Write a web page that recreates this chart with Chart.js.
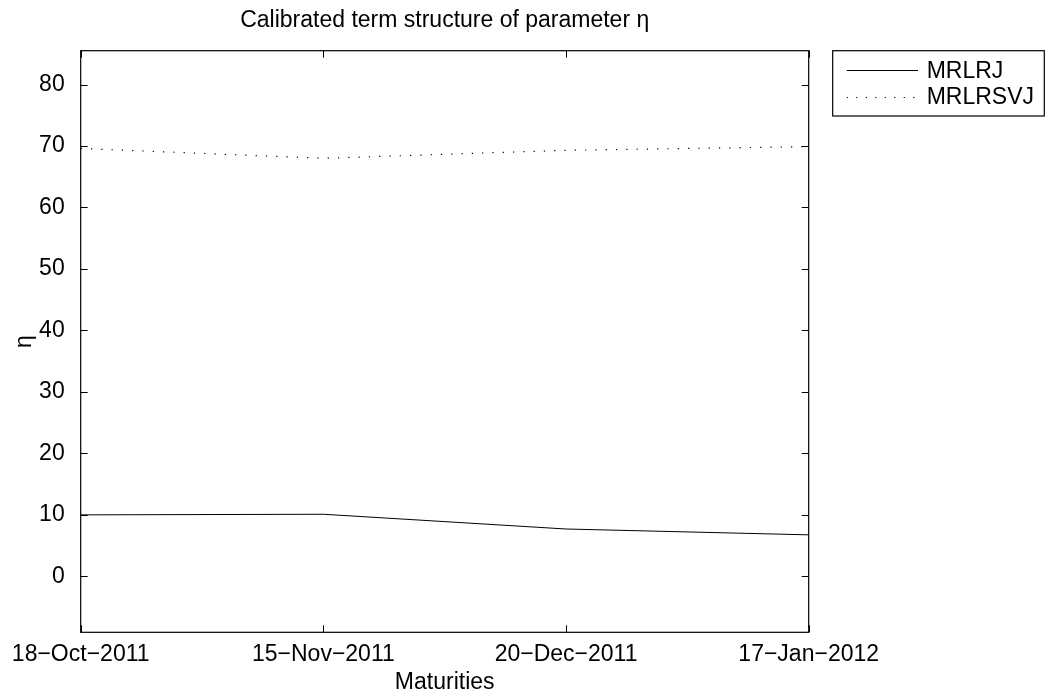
<!DOCTYPE html>
<html>
<head>
<meta charset="utf-8">
<script src="https://cdn.jsdelivr.net/npm/chart.js@4.4.0/dist/chart.umd.min.js"></script>
<style>
  html, body { margin: 0; padding: 0; background: #fff; overflow: hidden; }
  #wrap { width: 1051px; height: 698px; position: relative; }
</style>
</head>
<body>
<div id="wrap"><canvas id="c" width="1051" height="698"></canvas></div>
<script>
// Maturity dates on the x axis
const maturities = ['18\u2212Oct\u22122011', '15\u2212Nov\u22122011', '20\u2212Dec\u22122011', '17\u2212Jan\u22122012'];
// Calibrated eta for each model
const etaMRLRJ = [10.0, 10.1, 7.7, 6.75];
const etaMRLRSVJ = [69.6, 68.0, 69.3, 69.9];
// Y axis ticks and limits
const etaTicks = [0, 10, 20, 30, 40, 50, 60, 70, 80];
const etaMin = -9.1;
const etaMax = 85.5;

const FONT = 'Liberation Sans, Arial, Helvetica, sans-serif';
const FSIZE = 23;

// Axes box, inward tick marks and a boxed legend at the upper right
const framePlugin = {
  id: 'frame',
  afterDraw(chart) {
    const ctx = chart.ctx;
    const a = chart.chartArea;
    const xs = chart.scales.x, ys = chart.scales.y;
    const tl = 7;
    ctx.save();
    ctx.strokeStyle = '#000';
    ctx.lineWidth = 1.2;
    ctx.strokeRect(a.left, a.top, a.right - a.left, a.bottom - a.top);
    ctx.lineWidth = 1;
    ctx.beginPath();
    ys.ticks.forEach(t => {
      const y = Math.round(ys.getPixelForValue(t.value)) + 0.5;
      ctx.moveTo(a.left, y); ctx.lineTo(a.left + tl, y);
      ctx.moveTo(a.right, y); ctx.lineTo(a.right - tl, y);
    });
    xs.ticks.forEach((t, i) => {
      const x = Math.round(xs.getPixelForTick(i)) + 0.5;
      ctx.moveTo(x, a.bottom); ctx.lineTo(x, a.bottom - tl);
      ctx.moveTo(x, a.top); ctx.lineTo(x, a.top + tl);
    });
    ctx.stroke();

    // legend
    const lx1 = a.right + 24, ly1 = a.top, lx2 = 1044.3, ly2 = a.top + 65.3;
    ctx.lineWidth = 1.2;
    ctx.strokeRect(lx1, ly1, lx2 - lx1, ly2 - ly1);
    ctx.font = FSIZE + 'px ' + FONT;
    ctx.fillStyle = '#000';
    ctx.textBaseline = 'middle';
    ctx.textAlign = 'left';
    chart.data.datasets.forEach((ds, i) => {
      const y = ly1 + 19.5 + i * 26.7;
      ctx.save();
      ctx.lineWidth = ds.borderWidth;
      ctx.strokeStyle = ds.borderColor;
      ctx.setLineDash(ds.legendDash || []);
      ctx.beginPath();
      ctx.moveTo(lx1 + 14, Math.round(y) + 0.5);
      ctx.lineTo(lx1 + 85.3, Math.round(y) + 0.5);
      ctx.stroke();
      ctx.restore();
      ctx.fillText(ds.label, lx1 + 94, y + 1);
    });
    ctx.restore();
  }
};

new Chart(document.getElementById('c'), {
  type: 'line',
  data: {
    labels: maturities,
    datasets: [
      {
        label: 'MRLRJ',
        data: etaMRLRJ,
        borderColor: '#000',
        borderWidth: 1,
        pointRadius: 0,
        tension: 0,
        fill: false
      },
      {
        label: 'MRLRSVJ',
        data: etaMRLRSVJ,
        borderColor: '#000',
        borderWidth: 1.2,
        borderDash: [1.2, 9.1],
        legendDash: [1.2, 8.3],
        pointRadius: 0,
        tension: 0,
        fill: false
      }
    ]
  },
  options: {
    responsive: false,
    animation: false,
    devicePixelRatio: 1,
    layout: { padding: { left: 0, right: 242.3, top: 0, bottom: 0 } },
    plugins: {
      legend: { display: false },
      tooltip: { enabled: false },
      title: {
        display: true,
        text: 'Calibrated term structure of parameter \u03b7',
        color: '#000',
        fullSize: false,
        font: { family: FONT, size: FSIZE, weight: 'normal', lineHeight: 1.2 },
        padding: { top: 7.2, bottom: 15.9 }
      }
    },
    scales: {
      x: {
        type: 'category',
        offset: false,
        grid: { display: false },
        border: { display: false },
        ticks: {
          autoSkip: false, maxRotation: 0, minRotation: 0,
          color: '#000', padding: 1,
          font: { family: FONT, size: FSIZE, lineHeight: 1.2 }
        },
        title: {
          display: true, text: 'Maturities', color: '#000',
          font: { family: FONT, size: FSIZE, lineHeight: 1.2 },
          padding: { top: 0, bottom: 1.5 }
        },
        afterFit(scale) { scale.height = 65.7; }
      },
      y: {
        type: 'linear',
        min: etaMin,
        max: etaMax,
        grid: { display: false },
        border: { display: false },
        afterBuildTicks(scale) { scale.ticks = etaTicks.map(v => ({ value: v })); },
        ticks: {
          color: '#000', padding: 8,
          font: { family: FONT, size: FSIZE, lineHeight: 1.2 }
        },
        title: {
          display: true, text: '\u03b7', color: '#000',
          font: { family: FONT, size: FSIZE, lineHeight: 1.2 },
          padding: { top: 11.2, bottom: 0 }
        },
        afterFit(scale) { scale.width = 80.7; }
      }
    }
  },
  plugins: [framePlugin]
});
</script>
</body>
</html>
